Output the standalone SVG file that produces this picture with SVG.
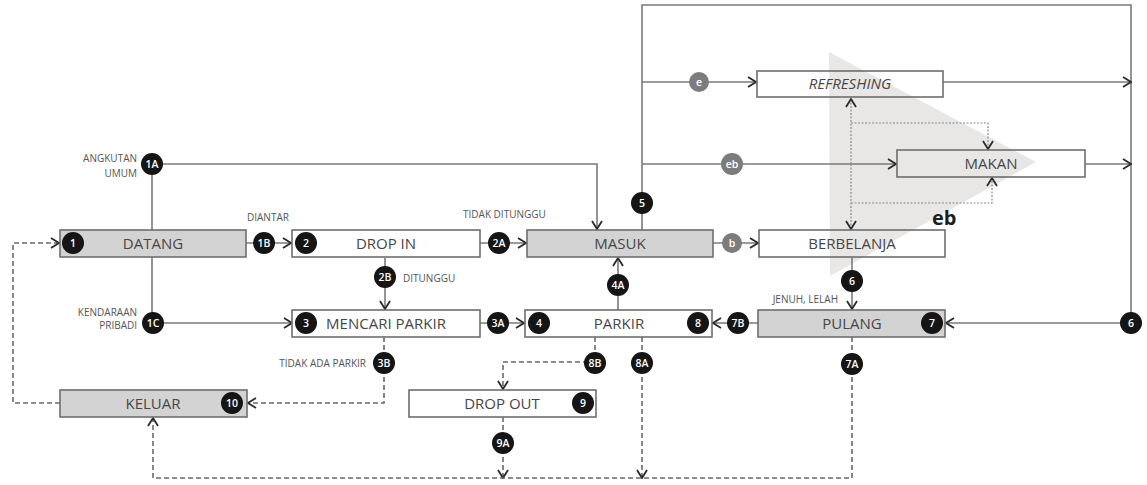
<svg xmlns="http://www.w3.org/2000/svg" width="1147" height="485" viewBox="0 0 1147 485">
<defs>
<style>
.box{stroke:#6e6e6e;stroke-width:1.6;fill:#ffffff}
.g{fill:#d3d3d3}
.tr{fill:none}
.bt{font-family:"Open Sans","Liberation Sans",sans-serif;font-size:15px;fill:#464646;text-anchor:middle}
.sl{font-family:"Open Sans","Liberation Sans",sans-serif;font-size:10px;fill:#555555}
.ln{fill:none;stroke:#7a7a7a;stroke-width:1.6}
.dl{fill:none;stroke:#6a6a6a;stroke-width:1.6;stroke-dasharray:5 3}
.dt{fill:none;stroke:#8a8a8a;stroke-width:1.2;stroke-dasharray:2 1.5}
.bk{fill:#151515}
.gy{fill:#7c7c7c}
.bx{font-family:"Open Sans","Liberation Sans",sans-serif;font-size:10.5px;font-weight:600;fill:#ffffff;text-anchor:middle}
</style>
<marker id="ar" viewBox="0 0 10 12" refX="9" refY="6" markerWidth="10" markerHeight="12" markerUnits="userSpaceOnUse" orient="auto">
<path d="M1,1 L9,6 L1,11" fill="none" stroke="#2a2a2a" stroke-width="1.8"/>
</marker>
</defs>
<rect width="1147" height="485" fill="#ffffff"/>
<rect x="1044" y="150" width="41" height="27" fill="#ffffff"/>
<polygon id="triangle" points="829,52 1036,162 830,276" fill="#e9e7e5"/>

<g id="connectors">
<path class="ln" d="M152,164 V323"/>
<path class="ln" d="M152,164 H597 V229" marker-end="url(#ar)"/>
<path class="ln" d="M246,243 H291" marker-end="url(#ar)"/>
<path class="ln" d="M480,243 H526" marker-end="url(#ar)"/>
<path class="ln" d="M385,258 V309" marker-end="url(#ar)"/>
<path class="ln" d="M153,323 H292" marker-end="url(#ar)"/>
<path class="ln" d="M480,323 H524" marker-end="url(#ar)"/>
<path class="ln" d="M618,310 V258" marker-end="url(#ar)"/>
<path class="ln" d="M713,243 H758" marker-end="url(#ar)"/>
<path class="ln" d="M642,230 V5 H1131 V323"/>
<path class="ln" d="M1131,323 H946" marker-end="url(#ar)"/>
<path class="ln" d="M642,82 H756" marker-end="url(#ar)"/>
<path class="ln" d="M943,82 H1131" marker-end="url(#ar)"/>
<path class="ln" d="M642,164 H896" marker-end="url(#ar)"/>
<path class="ln" d="M1085,164 H1131" marker-end="url(#ar)"/>
<path class="ln" d="M852,257 V309" marker-end="url(#ar)"/>
<path class="ln" d="M758,323 H713" marker-end="url(#ar)"/>
<path class="dl" d="M384,337 V403 H248" marker-end="url(#ar)"/>
<path class="dl" d="M60,403 H13 V243 H59" marker-end="url(#ar)"/>
<path class="dl" d="M595,337 V362 H503 V389" marker-end="url(#ar)"/>
<path class="dl" d="M642,337 V478" marker-end="url(#ar)"/>
<path class="dl" d="M503,417 V478" marker-end="url(#ar)"/>
<path class="dl" d="M852,337 V478 H153 V418" marker-end="url(#ar)"/>
<path class="dt" d="M851,164 V99" marker-end="url(#ar)"/>
<path class="dt" d="M851,164 V229" marker-end="url(#ar)"/>
<path class="dt" d="M851,123 H988 V149" marker-end="url(#ar)"/>
<path class="dt" d="M851,203 H992 V178" marker-end="url(#ar)"/>
</g>

<g id="node-datang">
<rect class="box g" x="60" y="230" width="186" height="27"/>
<text class="bt" x="153" y="249">DATANG</text>
<circle class="bk" cx="73" cy="243" r="11"/><text class="bx" x="73" y="247">1</text>
</g>
<g id="node-dropin">
<rect class="box" x="292" y="230" width="188" height="27"/>
<text class="bt" x="386" y="249">DROP IN</text>
<circle class="bk" cx="306" cy="243" r="11"/><text class="bx" x="306" y="247">2</text>
</g>
<g id="node-masuk">
<rect class="box g" x="527" y="230" width="186" height="27"/>
<text class="bt" x="620" y="249">MASUK</text>
</g>
<g id="node-berbelanja">
<rect class="box tr" x="759" y="230" width="186" height="27"/>
<text class="bt" x="852" y="249">BERBELANJA</text>
</g>
<g id="node-refreshing">
<rect class="box tr" x="757" y="71" width="186" height="26"/>
<text class="bt" x="850" y="89" font-style="italic">REFRESHING</text>
</g>
<g id="node-makan">
<rect class="box tr" x="897" y="150" width="188" height="27"/>
<text class="bt" x="991" y="169">MAKAN</text>
</g>
<g id="node-mencari-parkir">
<rect class="box" x="292" y="310" width="188" height="27"/>
<text class="bt" x="386" y="329">MENCARI PARKIR</text>
<circle class="bk" cx="306" cy="323" r="11"/><text class="bx" x="306" y="327">3</text>
</g>
<g id="node-parkir">
<rect class="box" x="525" y="310" width="187" height="27"/>
<text class="bt" x="619" y="329">PARKIR</text>
<circle class="bk" cx="539" cy="323" r="11"/><text class="bx" x="539" y="327">4</text>
<circle class="bk" cx="698" cy="323" r="11"/><text class="bx" x="698" y="327">8</text>
</g>
<g id="node-pulang">
<rect class="box g" x="758" y="310" width="187" height="27"/>
<text class="bt" x="852" y="329">PULANG</text>
<circle class="bk" cx="932" cy="323" r="11"/><text class="bx" x="932" y="327">7</text>
</g>
<g id="node-keluar">
<rect class="box g" x="60" y="390" width="187" height="27"/>
<text class="bt" x="153" y="409">KELUAR</text>
<circle class="bk" cx="232" cy="403" r="11"/><text class="bx" x="232" y="407">10</text>
</g>
<g id="node-dropout">
<rect class="box" x="409" y="390" width="187" height="27"/>
<text class="bt" x="502" y="409">DROP OUT</text>
<circle class="bk" cx="583" cy="403" r="11"/><text class="bx" x="583" y="407">9</text>
</g>

<g id="badges">
<circle class="bk" cx="152" cy="164" r="11"/><text class="bx" x="152" y="168">1A</text>
<circle class="bk" cx="264" cy="243" r="11"/><text class="bx" x="264" y="247">1B</text>
<circle class="bk" cx="153" cy="323" r="11"/><text class="bx" x="153" y="327">1C</text>
<circle class="bk" cx="499" cy="243" r="11"/><text class="bx" x="499" y="247">2A</text>
<circle class="bk" cx="385" cy="277" r="11"/><text class="bx" x="385" y="281">2B</text>
<circle class="bk" cx="498" cy="323" r="11"/><text class="bx" x="498" y="327">3A</text>
<circle class="bk" cx="384" cy="363" r="11"/><text class="bx" x="384" y="367">3B</text>
<circle class="bk" cx="618" cy="285" r="11"/><text class="bx" x="618" y="289">4A</text>
<circle class="bk" cx="642" cy="203" r="11"/><text class="bx" x="642" y="207">5</text>
<circle class="bk" cx="852" cy="281" r="11"/><text class="bx" x="852" y="285">6</text>
<circle class="bk" cx="1131" cy="323" r="11"/><text class="bx" x="1131" y="327">6</text>
<circle class="bk" cx="852" cy="364" r="11"/><text class="bx" x="852" y="368">7A</text>
<circle class="bk" cx="738" cy="323" r="11"/><text class="bx" x="738" y="327">7B</text>
<circle class="bk" cx="642" cy="363" r="11"/><text class="bx" x="642" y="367">8A</text>
<circle class="bk" cx="595" cy="363" r="11"/><text class="bx" x="595" y="367">8B</text>
<circle class="bk" cx="503" cy="443" r="11"/><text class="bx" x="503" y="447">9A</text>
<circle class="gy" cx="699" cy="82" r="10"/><text class="bx" x="699" y="86">e</text>
<circle class="gy" cx="732" cy="164" r="11"/><text class="bx" x="732" y="168">eb</text>
<circle class="gy" cx="732" cy="243" r="10"/><text class="bx" x="732" y="247">b</text>
</g>

<g id="labels">
<text class="sl" x="137" y="162" text-anchor="end">ANGKUTAN</text>
<text class="sl" x="137" y="177" text-anchor="end">UMUM</text>
<text class="sl" x="247" y="221">DIANTAR</text>
<text class="sl" x="463" y="218">TIDAK DITUNGGU</text>
<text class="sl" x="403" y="282">DITUNGGU</text>
<text class="sl" x="137" y="316" text-anchor="end" font-size="9.5">KENDARAAN</text>
<text class="sl" x="137" y="329" text-anchor="end" font-size="9.5">PRIBADI</text>
<text class="sl" x="366" y="367" text-anchor="end">TIDAK ADA PARKIR</text>
<text class="sl" x="838" y="303" text-anchor="end">JENUH, LELAH</text>
<text x="932" y="225" font-family="Open Sans, Liberation Sans, sans-serif" font-size="20" font-weight="700" fill="#1e1e1e">eb</text>
</g>
</svg>
